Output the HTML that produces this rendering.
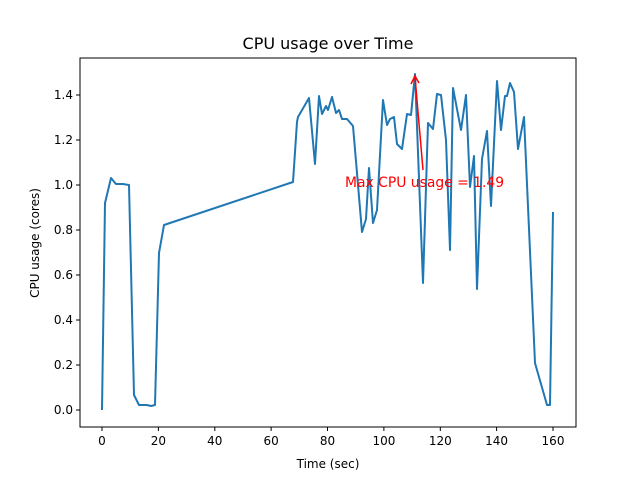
<!DOCTYPE html><html><head><style>body{margin:0;background:#fff}svg{font-family:"DejaVu Sans","Liberation Sans",sans-serif}</style></head><body>
<svg width="640" height="480" xmlns="http://www.w3.org/2000/svg">
<rect width="640" height="480" fill="#fff"/>
<text x="328" y="49" font-size="16" text-anchor="middle">CPU usage over Time</text>
<polyline fill="none" stroke="#1f77b4" stroke-width="2" stroke-linejoin="round" points="102,410 105,203 111,178 116,184 123,184 129,185 134,395 139,405 147,405 151,406 155,405 159,253 164,225 293,182 297,122 298,117 309,98 315,164 319,96 322,114 326,106 328,110 332,97 336,113 339,110 342,119 347,119 353,126 362,232 366,219 369,168 373,223 377,210 383,100 387,125 390,119 394,117 397,144 402,149 407,114 411,115 415,74 423,283 428,123 433,129 437,94 441,95 446,140 450,250 453,88 461,130 466,95 470,187 474,156 477,289 482,159 487,131 491,206 497,81 501,130 505,96 507,96 510,83 514,92 518,149 524,117 535,363 547,405 550,405 553,212"/>
<line x1="423" y1="170" x2="415" y2="77" stroke="red" stroke-width="1.5"/>
<polyline points="411,84 415,76 419,83" fill="none" stroke="red" stroke-width="1.5"/>
<text x="345" y="187" font-size="13.9" fill="red">Max CPU usage = 1.49</text>
<rect x="80" y="58" width="496" height="369" fill="none" stroke="#000" stroke-width="1"/>
<g font-size="12" text-anchor="middle">
<g stroke="#000"><line x1="102" y1="427" x2="102" y2="431"/><line x1="158.4" y1="427" x2="158.4" y2="431"/><line x1="214.8" y1="427" x2="214.8" y2="431"/><line x1="271.1" y1="427" x2="271.1" y2="431"/><line x1="327.5" y1="427" x2="327.5" y2="431"/><line x1="383.9" y1="427" x2="383.9" y2="431"/><line x1="440.3" y1="427" x2="440.3" y2="431"/><line x1="496.6" y1="427" x2="496.6" y2="431"/><line x1="553" y1="427" x2="553" y2="431"/></g>
<text x="102" y="445">0</text><text x="158.4" y="445">20</text><text x="214.8" y="445">40</text><text x="271.1" y="445">60</text><text x="327.5" y="445">80</text><text x="383.9" y="445">100</text><text x="440.3" y="445">120</text><text x="496.6" y="445">140</text><text x="553" y="445">160</text>
<text x="328" y="468">Time (sec)</text>
</g>
<g font-size="12" text-anchor="end">
<g stroke="#000"><line x1="76" y1="410" x2="80" y2="410"/><line x1="76" y1="365" x2="80" y2="365"/><line x1="76" y1="320" x2="80" y2="320"/><line x1="76" y1="275" x2="80" y2="275"/><line x1="76" y1="230" x2="80" y2="230"/><line x1="76" y1="185" x2="80" y2="185"/><line x1="76" y1="140" x2="80" y2="140"/><line x1="76" y1="95" x2="80" y2="95"/></g>
<text x="73" y="414">0.0</text><text x="73" y="369">0.2</text><text x="73" y="324">0.4</text><text x="73" y="279">0.6</text><text x="73" y="234">0.8</text><text x="73" y="189">1.0</text><text x="73" y="144">1.2</text><text x="73" y="99">1.4</text>
</g>
<text transform="translate(39,243) rotate(-90)" font-size="12" text-anchor="middle">CPU usage (cores)</text>
</svg></body></html>
